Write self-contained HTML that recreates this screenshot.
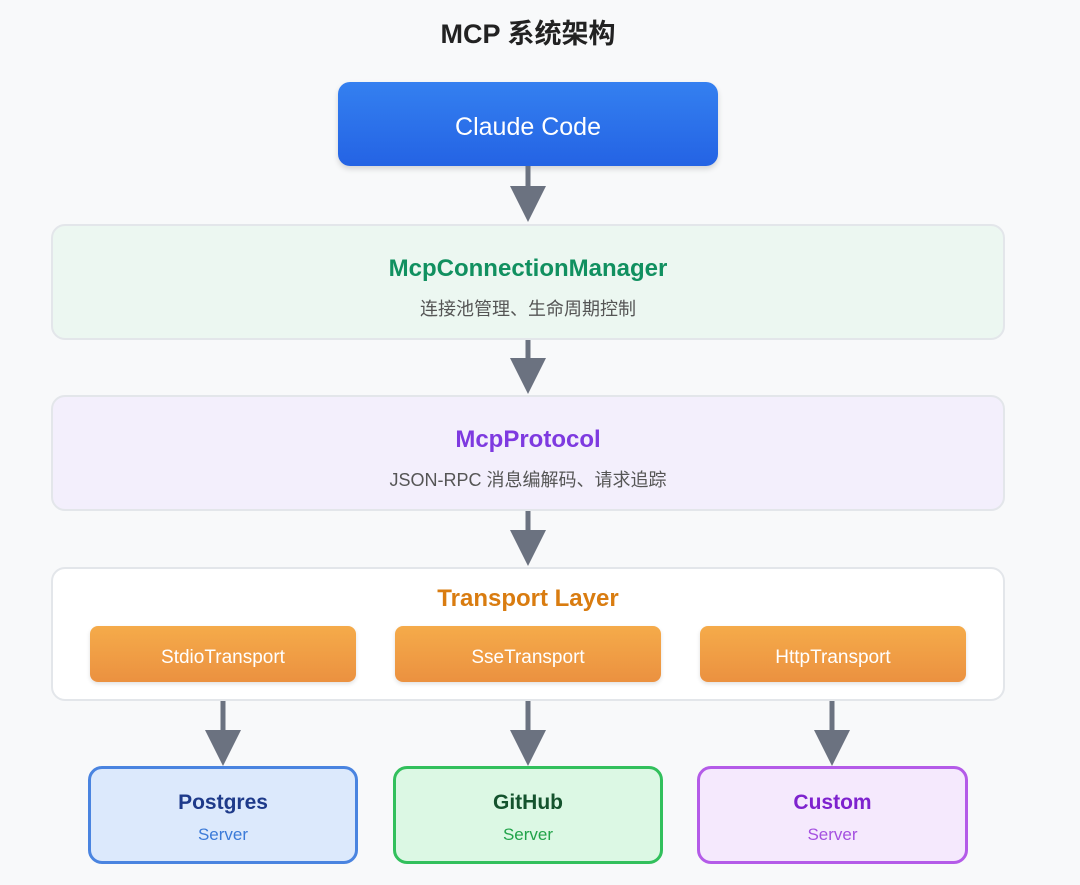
<!DOCTYPE html>
<html><head><meta charset="utf-8"><style>
*{margin:0;padding:0;box-sizing:border-box}
body{width:1080px;height:885px;background:#f8f9fa;font-family:"Liberation Sans","Noto Sans CJK SC",sans-serif;position:relative;overflow:hidden}
.a{position:absolute}
.t{display:flex;flex-direction:column;align-items:center;justify-content:center;text-align:center}
.layer{border:2px solid #e3e6ea;border-radius:14px}
.h{font-weight:bold;font-size:24px}
.s{font-size:18px;color:#555;margin-top:12px}
.sub{background:linear-gradient(#f5ab4a,#eb9140);border-radius:8px;color:#fff;font-size:19px;box-shadow:0 2px 4px rgba(0,0,0,.12);padding-top:8px}
.srv{border:3px solid;border-radius:14px;padding-top:6px}
.srv b{font-size:21px}
.srv span{font-size:17px;margin-top:10px}
</style></head><body>
<div class="a t" style="left:0;top:13px;width:1056px;height:36px;font-size:27px;font-weight:bold;color:#222">MCP 系统架构</div>
<div class="a t" style="left:338px;top:82px;width:380px;height:84px;background:linear-gradient(#3480f0,#2463e4);border-radius:12px;color:#fff;font-size:25px;box-shadow:0 3px 6px rgba(0,0,0,.15);padding-top:6px">Claude Code</div>
<svg class="a" style="left:0;top:0" width="1080" height="885">
<g fill="#6b7280" stroke="#6b7280">
<line x1="528" y1="166" x2="528" y2="190" stroke-width="5"/><polygon points="510,186 546,186 528,222" stroke="none"/>
<line x1="528" y1="339" x2="528" y2="362" stroke-width="5"/><polygon points="510,358 546,358 528,394" stroke="none"/>
<line x1="528" y1="510" x2="528" y2="534" stroke-width="5"/><polygon points="510,530 546,530 528,566" stroke="none"/>
<line x1="223" y1="700" x2="223" y2="732" stroke-width="5"/><polygon points="205,730 241,730 223,766" stroke="none"/>
<line x1="528" y1="700" x2="528" y2="732" stroke-width="5"/><polygon points="510,730 546,730 528,766" stroke="none"/>
<line x1="832" y1="700" x2="832" y2="732" stroke-width="5"/><polygon points="814,730 850,730 832,766" stroke="none"/>
</g></svg>
<div class="a t layer" style="left:51px;top:224px;width:954px;height:116px;background:#ecf7f1;padding-top:12px"><div class="h" style="color:#119060">McpConnectionManager</div><div class="s">连接池管理、生命周期控制</div></div>
<div class="a t layer" style="left:51px;top:395px;width:954px;height:116px;background:#f3effc;padding-top:12px"><div class="h" style="color:#7e3ae0">McpProtocol</div><div class="s">JSON-RPC 消息编解码、请求追踪</div></div>
<div class="a layer" style="left:51px;top:567px;width:954px;height:134px;background:#fff"></div>
<div class="a t" style="left:51px;top:582px;width:954px;height:34px;font-size:24px;font-weight:bold;color:#d97c10">Transport Layer</div>
<div class="a t sub" style="left:90px;top:626px;width:266px;height:56px">StdioTransport</div>
<div class="a t sub" style="left:395px;top:626px;width:266px;height:56px">SseTransport</div>
<div class="a t sub" style="left:700px;top:626px;width:266px;height:56px">HttpTransport</div>
<div class="a t srv" style="left:88px;top:766px;width:270px;height:98px;background:#dce9fc;border-color:#4a84e0"><b style="color:#1e3a8a">Postgres</b><span style="color:#3b7ad8">Server</span></div>
<div class="a t srv" style="left:393px;top:766px;width:270px;height:98px;background:#dcf8e4;border-color:#32c05c"><b style="color:#14532d">GitHub</b><span style="color:#22a34a">Server</span></div>
<div class="a t srv" style="left:697px;top:766px;width:271px;height:98px;background:#f5e9fd;border-color:#b45be8"><b style="color:#7e22ce">Custom</b><span style="color:#a550e0">Server</span></div>
</body></html>
